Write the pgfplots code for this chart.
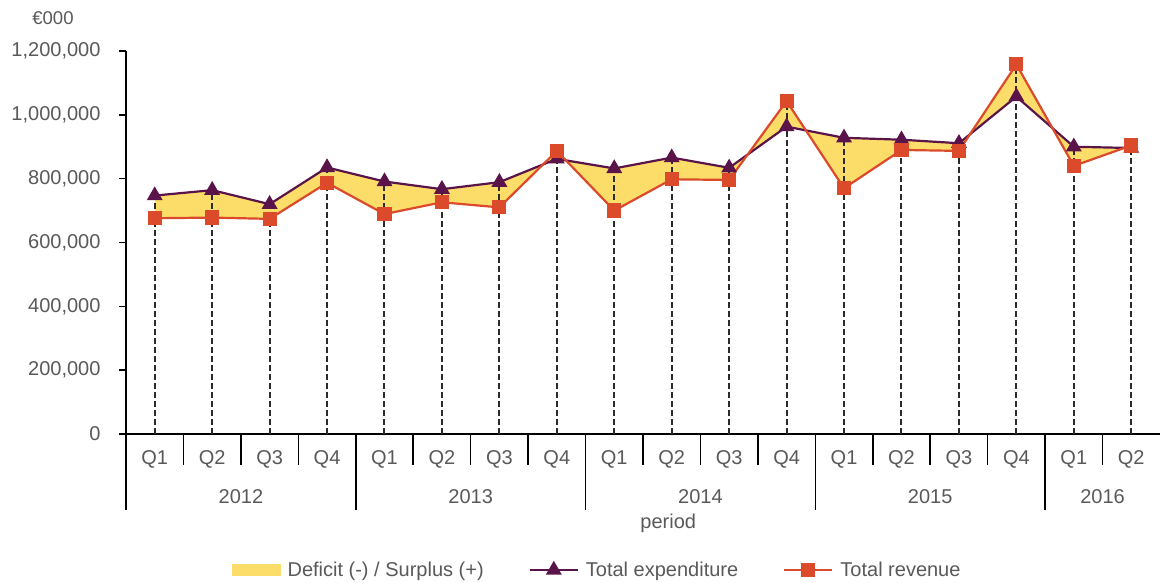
\documentclass[border=0pt]{standalone}
\usepackage{fontspec}
\setmainfont{Liberation Sans}
\usepackage{pgfplots}
\usepackage{pgfplotstable}
\pgfplotsset{compat=1.18}
\usepgfplotslibrary{fillbetween}
\definecolor{yel}{HTML}{FCDD6A}
\definecolor{pur}{HTML}{5B1449}
\definecolor{redc}{HTML}{DA4A2B}
\definecolor{txt}{HTML}{595959}
\definecolor{drop}{HTML}{2B2B2B}

\pgfplotstableread{
x exp rev
0 747000 676000
1 764000 678000
2 720000 674000
3 835000 787000
4 791000 689000
5 767000 726000
6 789000 710000
7 862000 887000
8 832000 700000
9 866000 798000
10 834000 796000
11 963000 1043000
12 928000 770000
13 922000 890000
14 911000 887000
15 1057000 1158000
16 900000 840000
17 896000 904000
}\data

\begin{document}
\begin{tikzpicture}[font=\fontsize{20}{24}\selectfont]
\begin{axis}[
  scale only axis, width=1034pt, height=383pt,
  xmin=-0.5, xmax=17.5, ymin=0, ymax=1200000,
  clip=false,
  axis x line*=bottom, axis y line*=left,
  axis line style={line width=1.6pt, black, -},
  ytick={0,200000,400000,600000,800000,1000000,1200000},
  scaled y ticks=false,
  /pgf/number format/fixed,
  /pgf/number format/precision=0,
  /pgf/number format/1000 sep={,},
  /pgf/number format/assume math mode=true,
  tick align=outside,
  major tick length=7pt,
  ytick style={line width=1.6pt, black},
  xtick style={draw=none},
  xtick={0,...,17},
  xticklabels={Q1,Q2,Q3,Q4,Q1,Q2,Q3,Q4,Q1,Q2,Q3,Q4,Q1,Q2,Q3,Q4,Q1,Q2},
  tick label style={font=\fontsize{20}{24}\selectfont, text=txt},
  yticklabel style={xshift=-15pt},
  xticklabel style={yshift=-6pt},
  legend style={at={(rel axis cs:0.1025,0)}, anchor=west, yshift=-136pt,
    draw=none, fill=none, inner sep=0pt, legend columns=3,
    font=\fontsize{20}{24}\selectfont, text=txt,
    /tikz/every odd column/.append style={column sep=5pt},
    /tikz/every even column/.append style={column sep=43pt}},
  legend cell align=left,
]
\addlegendimage{legend image code/.code={\fill[yel] (0pt,-5.5pt) rectangle (48pt,5.5pt);}}
\addlegendimage{legend image code/.code={\draw[pur, line width=2.2pt, mark=triangle*, mark size=7pt, mark repeat=2, mark phase=2] plot coordinates {(0pt,0pt) (24pt,0pt) (48pt,0pt)};}}
\addlegendimage{legend image code/.code={\draw[redc, line width=2.2pt, mark=square*, mark size=6pt, mark repeat=2, mark phase=2] plot coordinates {(0pt,0pt) (24pt,0pt) (48pt,0pt)};}}
\legend{Deficit (-) / Surplus (+),Total expenditure,Total revenue}

\addplot[name path=E, draw=none, forget plot] table[x=x,y=exp]{\data};
\addplot[name path=R, draw=none, forget plot] table[x=x,y=rev]{\data};
\addplot[yel, forget plot] fill between[of=E and R];

\addplot[pur, line width=2.2pt, mark=triangle*, mark size=7pt, forget plot] table[x=x,y=exp]{\data};
\addplot[redc, line width=2.2pt, mark=square*, mark size=6pt, forget plot] table[x=x,y=rev]{\data};

\addplot[ycomb, drop, line width=2pt, dash pattern=on 6pt off 3pt, no marks, forget plot] table[x=x,y=exp]{\data};
\addplot[ycomb, drop, line width=2pt, dash pattern=on 6pt off 3pt, no marks, forget plot] table[x=x,y=rev]{\data};

\pgfplotsinvokeforeach{0.5,1.5,2.5,4.5,5.5,6.5,8.5,9.5,10.5,12.5,13.5,14.5,16.5}{
  \draw[line width=1.6pt, black] (axis cs:#1,0) -- ++(0pt,-31pt);
}
\pgfplotsinvokeforeach{-0.5,3.5,7.5,11.5,15.5}{
  \draw[line width=1.6pt, black] (axis cs:#1,0) -- ++(0pt,-76pt);
}
\node[text=txt] at (axis cs:1.5,0) [yshift=-63pt] {2012};
\node[text=txt] at (axis cs:5.5,0) [yshift=-63pt] {2013};
\node[text=txt] at (axis cs:9.5,0) [yshift=-63pt] {2014};
\node[text=txt] at (axis cs:13.5,0) [yshift=-63pt] {2015};
\node[text=txt] at (axis cs:16.5,0) [yshift=-63pt] {2016};
\node[text=txt] at (axis cs:8.94,0) [yshift=-89pt] {period};
\end{axis}
\node[text=txt, font=\fontsize{18.5}{22}\selectfont] at (-73pt,416pt) {€000};
\pgfresetboundingbox
\useasboundingbox (-126pt,-149pt) rectangle (1034pt,434pt);
\end{tikzpicture}
\end{document}
